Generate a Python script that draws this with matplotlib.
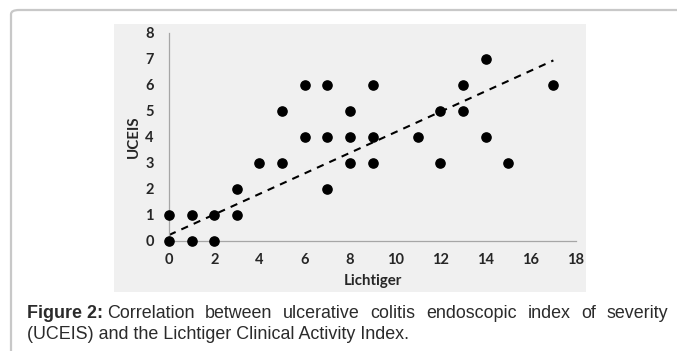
import matplotlib
matplotlib.use("Agg")
import matplotlib.pyplot as plt
import numpy as np
from matplotlib.patches import FancyBboxPatch, Rectangle

# Data
lichtiger = [0, 0, 1, 1, 2, 2, 3, 3, 4, 5, 5, 6, 6, 7, 7, 7, 8, 8, 8, 9, 9, 9, 11, 12, 12, 13, 13, 14, 14, 15, 17]
uceis =     [0, 1, 0, 1, 0, 1, 1, 2, 3, 3, 5, 4, 6, 2, 4, 6, 3, 4, 5, 3, 4, 6, 4, 3, 5, 5, 6, 4, 7, 3, 6]
# linear trendline as drawn in the reference (overlapping points hide the true counts)
trend_intercept = 0.23
trend_slope = 0.395
x_ticks = [0, 2, 4, 6, 8, 10, 12, 14, 16, 18]
y_ticks = [0, 1, 2, 3, 4, 5, 6, 7, 8]
x_label = "Lichtiger"
y_label = "UCEIS"
caption_bold = "Figure 2:"
caption_line1 = "Correlation between ulcerative colitis endoscopic index of severity"
caption_line2 = "(UCEIS) and the Lichtiger Clinical Activity Index."

W, H = 677, 351
CAP_SIZE = 12.9
fig = plt.figure(figsize=(W / 100, H / 100), dpi=100)
fig.patch.set_facecolor("white")

def fx(px):
    return px / W

def fy(py):
    return 1 - py / H

# outer rounded border (only top & left visible)
border = FancyBboxPatch((fx(11), fy(420)), fx(720), (420 - 10) / H,
                        boxstyle="round,pad=0,rounding_size=0.012",
                        transform=fig.transFigure, facecolor="none",
                        edgecolor="#c8c8c8", linewidth=1.6, zorder=-2)
fig.patches.append(border)

# grey chart panel
panel = Rectangle((fx(114), fy(292)), fx(586 - 114), (292 - 24) / H,
                  transform=fig.transFigure, facecolor="#f0f0f0",
                  edgecolor="none", zorder=-1)
fig.patches.append(panel)

# axes: x 0->169px, 18->576px ; y 0->241px, 8->33px
ax = fig.add_axes([fx(169), fy(241), fx(576 - 169), (241 - 33) / H])
ax.set_zorder(2)
ax.set_facecolor("none")
ax.set_xlim(0, 18)
ax.set_ylim(0, 8)
for s in ["top", "right"]:
    ax.spines[s].set_visible(False)
for s in ["left", "bottom"]:
    ax.spines[s].set_color("#a6a6a6")
    ax.spines[s].set_linewidth(0.9)

ax.set_xticks(x_ticks)
ax.set_yticks(y_ticks)
tick_font = dict(family="Lato", weight="bold", size=10.5)
ax.set_xticklabels([str(t) for t in x_ticks], **tick_font, color="#262626")
ax.set_yticklabels([str(t) for t in y_ticks], **tick_font, color="#262626")
ax.tick_params(axis="both", length=0)
ax.tick_params(axis="x", pad=8.5)
ax.tick_params(axis="y", pad=11)

ax.scatter(lichtiger, uceis, s=44, color="black", zorder=3, clip_on=False)

xs = np.array([min(lichtiger), max(lichtiger)])
ax.plot(xs, trend_intercept + trend_slope * xs, color="black",
        linestyle=(0, (3.5, 3)), linewidth=1.5, zorder=2)

ax.set_xlabel(x_label, family="Lato", weight="bold", size=10.8, color="#262626", labelpad=5)
ax.set_ylabel(y_label, family="Lato", weight="bold", size=10.8, color="#262626", labelpad=3)

# caption
t1 = fig.text(fx(27), fy(318), caption_bold, family="Liberation Sans", weight="bold",
              size=CAP_SIZE, color="#2b2b2b", va="baseline", ha="left")
fig.canvas.draw()
r = fig.canvas.get_renderer()
bb = t1.get_window_extent(renderer=r)
x_after = bb.x1 / W + fx(4)

# justify line 1 to end at x=668
words = caption_line1.split(" ")
widths = []
tmp_objs = []
for w in words:
    t = fig.text(0, 0, w, family="Liberation Sans", size=CAP_SIZE)
    widths.append(t.get_window_extent(renderer=r).width)
    tmp_objs.append(t)
for t in tmp_objs:
    t.remove()
start_px = x_after * W
end_px = 668
gap = (end_px - start_px - sum(widths)) / (len(words) - 1)
xpos = start_px
for w, wd in zip(words, widths):
    fig.text(xpos / W, fy(318), w, family="Liberation Sans", size=CAP_SIZE,
             color="#2b2b2b", va="baseline", ha="left")
    xpos += wd + gap

fig.text(fx(27), fy(339), caption_line2, family="Liberation Sans", size=CAP_SIZE,
         color="#2b2b2b", va="baseline", ha="left")

fig.savefig("out.png", dpi=100, facecolor="white")
